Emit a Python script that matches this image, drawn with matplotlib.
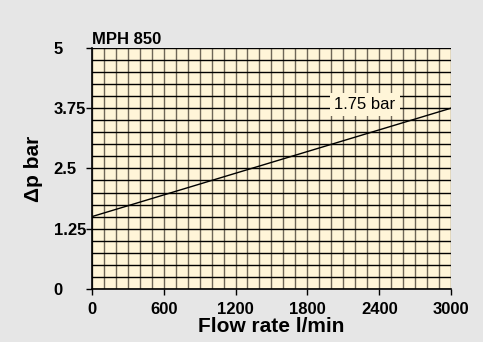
import matplotlib
matplotlib.use('Agg')
import matplotlib.pyplot as plt
import numpy as np

flow = [0, 0, 3000]
dp = [0, 1.5, 3.75]
x_ticks = [0, 600, 1200, 1800, 2400, 3000]
y_ticks = [0, 1.25, 2.5, 3.75, 5]
y_tick_labels = ['0', '1.25', '2.5', '3.75', '5']
model = 'MPH 850'
setting = '1.75 bar'

plt.rcParams['font.family'] = ['Liberation Sans', 'DejaVu Sans']

fig = plt.figure(figsize=(4.83, 3.42), dpi=100, facecolor='#e6e6e6')
ax = fig.add_axes([0.190, 0.155, 0.744, 0.705])
ax.set_facecolor('#fff5d8')

# fine grid
for xv in np.arange(0, 3001, 100):
    ax.axvline(xv, color='#6e6657', lw=1.0, zorder=1)
for yv in np.arange(0, 5.01, 0.25):
    ax.axhline(yv, color='black', lw=1.0, zorder=1)

ax.plot(flow, dp, color='black', lw=1.0, zorder=3)

ax.text(2280, 3.82, setting, ha='center', va='center', fontsize=12,
        bbox=dict(boxstyle='square,pad=0.25', fc='#fff5d8', ec='none'), zorder=4)

ax.set_xlim(0, 3000)
ax.set_ylim(0, 5)
ax.set_xticks(x_ticks)
ax.set_yticks(y_ticks)
ax.set_yticklabels(y_tick_labels)
ax.tick_params(direction='out', length=4.5, width=1, labelsize=12, pad=5)
ax.tick_params(axis='y', pad=23)
for lab in ax.get_yticklabels():
    lab.set_horizontalalignment('left')
for lab in ax.get_xticklabels() + ax.get_yticklabels():
    lab.set_fontweight('bold')
for s in ['top', 'right']:
    ax.spines[s].set_visible(False)
ax.spines['left'].set_linewidth(1.2)
ax.spines['bottom'].set_linewidth(1.2)

ax.set_xlabel('Flow rate l/min', fontsize=15, fontweight='bold', labelpad=0)
ax.set_ylabel('Δp bar', fontsize=15, fontweight='bold')
ax.yaxis.set_label_coords(-0.135, 0.5)
ax.set_title(model, loc='left', fontsize=12, fontweight='bold', pad=3)

fig.savefig('out.png', dpi=100, facecolor=fig.get_facecolor())
